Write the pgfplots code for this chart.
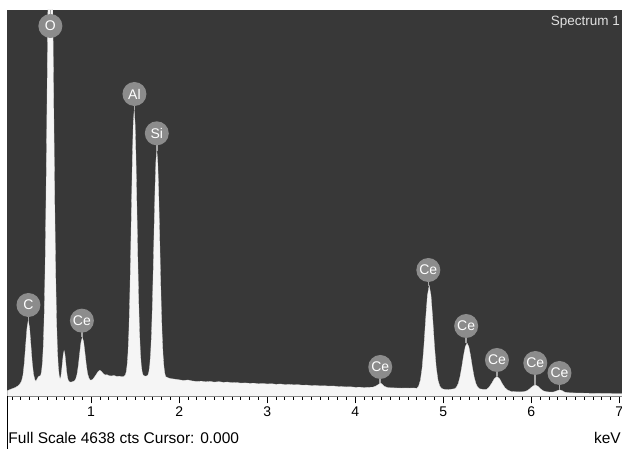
\documentclass[border=0pt]{standalone}
\usepackage{fontspec}
\setmainfont{Liberation Sans}
\usepackage{pgfplots}
\pgfplotsset{compat=1.18}

\definecolor{bgdark}{RGB}{56,56,56}
\definecolor{spec}{RGB}{245,245,245}
\definecolor{lblgray}{RGB}{140,140,140}
\definecolor{stemgray}{RGB}{165,165,165}

% element label: x, peak top, label centre, text
\newcommand{\elem}[4]{%
  \draw[stemgray, line width=1.6pt] (axis cs:#1,#2) -- (axis cs:#1,#3);
  \node[circle, fill=lblgray, text=white, minimum size=24pt, inner sep=0pt,
        font=\fontsize{14}{14}\selectfont] at (axis cs:#1,#3) {#4};}

\begin{document}
\begin{tikzpicture}
\path[use as bounding box] (0,0) rectangle (622pt,449pt);
\begin{axis}[
  at={(7.5pt,52.5pt)}, anchor=south west,
  width=614.5pt, height=386.5pt, scale only axis,
  xmin=0.05, xmax=7.03, ymin=0, ymax=4638,
  axis background/.style={fill=bgdark},
  axis x line*=bottom, axis y line=none,
  axis line style={black, line width=0.9pt, -},
  xtick={1,2,...,7}, minor xtick={0.1,0.2,...,7.0}, ytick=\empty,
  tick align=outside, major tick length=7pt, minor tick length=3.5pt,
  tick style={black, line width=0.8pt},
  xticklabel style={font=\fontsize{14}{14}\selectfont},
  /pgf/number format/assume math mode=true,
]
\addplot[fill=spec, draw=spec!90!black, line width=0.3pt] coordinates {
(0.05,70)(0.08,84)(0.11,96)(0.14,108)(0.17,128)(0.196,158)(0.211,190)(0.226,255)
(0.241,400)(0.256,610)(0.271,815)(0.286,915)(0.301,820)(0.316,611)(0.331,402)
(0.346,263)(0.361,200)(0.373,182)(0.385,208)(0.40,236)(0.412,244)(0.422,250)
(0.427,253)(0.437,302)(0.447,407)(0.457,608)(0.467,964)(0.477,1526)(0.487,2323)
(0.497,3325)(0.507,4420)(0.517,5435)(0.527,6160)(0.537,6420)(0.547,6110)
(0.557,5385)(0.567,4370)(0.577,3275)(0.587,2273)(0.597,1476)(0.607,914)
(0.617,555)(0.627,355)(0.637,250)(0.647,210)(0.656,235)(0.665,310)(0.674,405)
(0.684,506)(0.693,550)(0.702,506)(0.712,405)(0.721,305)(0.731,228)(0.742,190)
(0.755,174)(0.77,172)(0.785,176)(0.81,186)(0.825,210)(0.84,265)(0.855,372)
(0.87,518)(0.885,652)(0.90,710)(0.915,654)(0.93,520)(0.945,377)(0.96,272)
(0.975,220)(0.99,196)(1.005,198)(1.02,208)(1.04,236)(1.06,268)(1.08,300)
(1.10,315)(1.12,296)(1.14,272)(1.16,258)(1.18,262)(1.20,250)(1.23,246)
(1.26,252)(1.29,240)(1.32,244)(1.35,236)(1.375,242)
(1.389,259)(1.399,296)(1.409,376)(1.419,528)(1.429,786)(1.439,1180)(1.449,1701)
(1.459,2298)(1.469,2868)(1.479,3282)(1.489,3435)(1.499,3282)(1.509,2868)
(1.519,2298)(1.529,1701)(1.539,1180)(1.549,786)(1.559,528)(1.569,376)
(1.579,296)(1.589,259)(1.60,250)(1.617,242)(1.632,247)
(1.646,258)(1.656,296)(1.666,374)(1.676,516)(1.686,751)(1.696,1093)(1.706,1535)
(1.716,2030)(1.726,2494)(1.736,2827)(1.746,2950)(1.756,2827)(1.766,2494)
(1.776,2030)(1.786,1535)(1.796,1093)(1.806,751)(1.816,511)(1.826,364)
(1.836,281)(1.846,238)(1.87,226)
(1.90,215)(1.95,208)(2.00,200)(2.05,192)(2.10,198)(2.15,186)(2.20,180)(2.25,184)
(2.30,176)(2.35,181)(2.40,172)(2.45,178)(2.50,170)(2.55,173)(2.60,165)(2.65,168)
(2.70,160)(2.75,163)(2.80,158)(2.85,160)(2.90,152)(2.95,156)(3.00,150)(3.05,153)
(3.10,146)(3.15,150)(3.20,143)(3.25,145)(3.30,140)(3.35,142)(3.40,135)(3.45,137)
(3.50,131)(3.55,133)(3.60,127)(3.65,129)(3.70,124)(3.75,126)(3.80,120)(3.85,118)
(3.90,115)(3.95,116)(4.00,110)(4.05,112)(4.10,107)(4.15,110)(4.20,112)
(4.24,128)(4.27,150)(4.285,162)(4.30,152)(4.33,122)(4.37,106)(4.42,104)
(4.47,102)(4.52,100)(4.57,101)(4.62,100)(4.66,102)(4.70,98)
(4.72,125)(4.74,194)(4.76,343)(4.78,600)(4.80,929)(4.82,1214)(4.84,1330)
(4.86,1214)(4.88,929)(4.90,600)(4.92,343)(4.94,194)(4.96,125)(4.98,98)
(5.00,88)(5.04,82)(5.08,85)
(5.13,93)(5.15,113)(5.17,156)(5.19,236)(5.21,353)(5.23,487)(5.25,597)(5.27,640)
(5.29,597)(5.31,487)(5.33,353)(5.35,236)(5.37,156)(5.39,113)(5.41,93)(5.45,85)
(5.49,84)(5.52,111)(5.55,158)(5.58,214)(5.61,240)(5.64,212)(5.67,153)(5.70,105)
(5.73,78)(5.77,60)(5.82,57)(5.87,55)(5.92,58)
(5.955,71)(5.985,95)(6.015,124)(6.045,138)(6.075,122)(6.105,92)(6.135,68)
(6.165,58)(6.20,54)(6.24,52)
(6.26,56)(6.29,68)(6.32,80)(6.35,70)(6.38,52)(6.43,45)(6.50,42)(6.60,40)
(6.70,38)(6.80,37)(6.90,36)(7.03,35)
} \closedcycle;

\elem{0.288}{915}{1098}{C}
\elem{0.537}{4638}{4446}{O}
\elem{0.895}{710}{910}{Ce}
\elem{1.492}{3435}{3630}{Al}
\elem{1.746}{2950}{3158}{Si}
\elem{4.284}{162}{354}{Ce}
\elem{4.83}{1330}{1518}{Ce}
\elem{5.26}{640}{846}{Ce}
\elem{5.61}{240}{438}{Ce}
\elem{6.045}{138}{402}{Ce}
\elem{6.32}{80}{282}{Ce}
\end{axis}
\node[anchor=base east, inner sep=0pt, text={rgb,255:red,225;green,225;blue,225},
      font=\fontsize{13.5}{13.5}\selectfont] at (620pt,423.5pt) {Spectrum 1};
\draw[black, line width=0.8pt] (7.5pt,0pt) -- (7.5pt,52.5pt);
\node[anchor=base west, inner sep=0pt, font=\fontsize{15.5}{15.5}\selectfont]
  at (8.3pt,5pt) {Full Scale 4638 cts Cursor: 0.000};
\node[anchor=base east, inner sep=0pt, font=\fontsize{15.5}{15.5}\selectfont]
  at (621pt,5pt) {keV};
\end{tikzpicture}
\end{document}
